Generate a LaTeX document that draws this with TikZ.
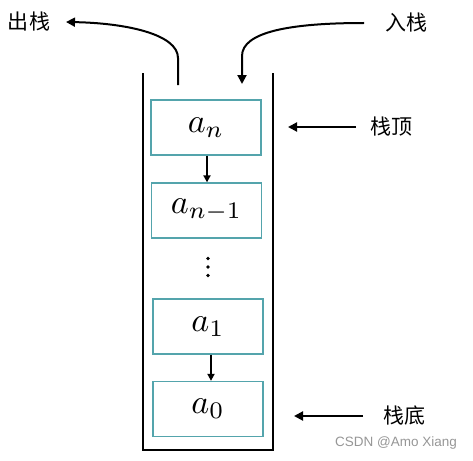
\documentclass[tikz,border=0pt]{standalone}
\usepackage{fontspec}
\newfontfamily\cjk{Noto Sans CJK SC}
\newfontfamily\wmfont{Liberation Sans}
\usetikzlibrary{arrows.meta}
\definecolor{boxteal}{RGB}{84,164,172}
\definecolor{wmgray}{RGB}{150,150,150}
\newcommand{\elemtext}[2][0pt]{\raisebox{#1}{\scalebox{3.4}{$#2$}}}
\tikzset{
  elembox/.style={draw=boxteal, line width=1.3pt, minimum width=110pt, minimum height=55pt, inner sep=0pt},
  wall/.style={line width=2.6pt},
  bigarrow/.style={line width=2pt, -{Triangle[length=9pt,width=9pt]}},
  linkarrow/.style={line width=1.8pt, -{Triangle[length=7pt,width=7pt]}},
  cjklabel/.style={font=\cjk\fontsize{21}{24}\selectfont, inner sep=0pt},
}
\begin{document}
\begin{tikzpicture}[x=1pt,y=-1pt]
\useasboundingbox (0,0) rectangle (473,460);
% container
\draw[wall] (143,73) -- (143,450) -- (273,450) -- (273,73);
% elements
\node[elembox] (an) at (206,127.5) {\elemtext{a_n}};
\node[elembox] (an1) at (206.5,210.5) {\elemtext[-4pt]{a_{n-1}}};
\node[elembox] (a1) at (208,326.5) {\elemtext[-3pt]{a_1}};
\node[elembox] (a0) at (208,409) {\elemtext{a_0}};
% links
\draw[linkarrow] (an.south -| 207,0) -- (an1.north -| 207,0);
\draw[linkarrow] (a1.south -| 211,0) -- (a0.north -| 211,0);
% dots
\fill (208,258.5) circle (1.8pt) (208,267) circle (1.8pt) (208,275.5) circle (1.8pt);
% labels
\node[cjklabel] (pop) at (29,22) {出栈};
\node[cjklabel] (push) at (406,23) {入栈};
\node[cjklabel] (top) at (391,127) {栈顶};
\node[cjklabel] (bottom) at (404,416) {栈底};
\node[font=\wmfont\fontsize{13.5}{15}\selectfont, text=wmgray, inner sep=0pt] (wm) at (396,443) {CSDN @Amo Xiang};
% pop / push curves
\coordinate (popstart) at (178,85);
\coordinate (pushend) at (242,84);
\coordinate (popend) at (66,22);
\coordinate (pushstart) at (364,23);
\draw[bigarrow] (popstart) -- (178,58) .. controls (178,34) and (125,23) .. (popend);
\draw[bigarrow] (pushstart) .. controls (290,23) and (242,32) .. (242,56) -- (pushend);
% top / bottom pointers
\coordinate (toptip) at (288,127);
\coordinate (bottomtip) at (294,416);
\draw[bigarrow] (top.west -| 356,0) -- (toptip);
\draw[bigarrow] (bottom.west -| 363,0) -- (bottomtip);
\end{tikzpicture}
\end{document}
